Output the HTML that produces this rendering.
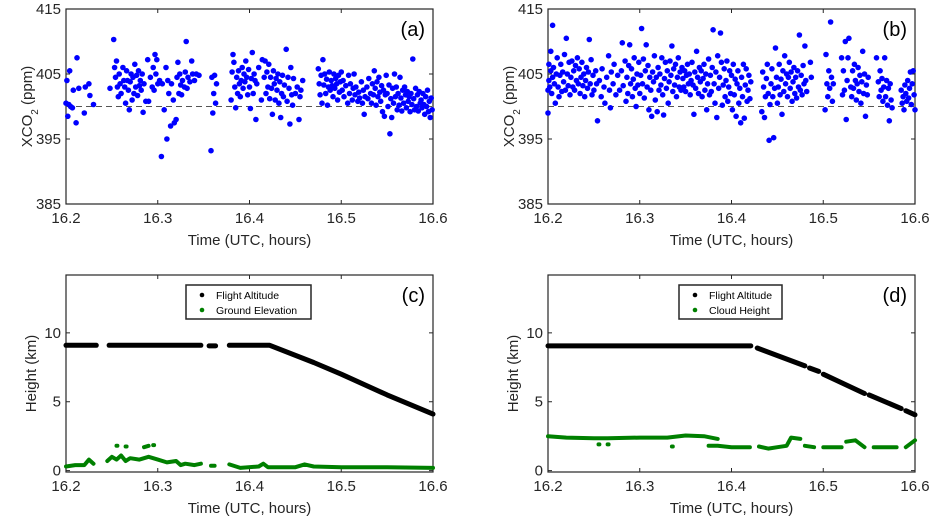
<!DOCTYPE html>
<html><head><meta charset="utf-8"><style>
body{margin:0;background:#fff;}
svg{display:block;font-family:"Liberation Sans",Arial,sans-serif;}
</style></head><body>
<svg id="fig" width="938" height="524" viewBox="0 0 938 524"></svg>
<script>
// ---- Data ----
const xTicks = [16.2, 16.3, 16.4, 16.5, 16.6];
const xTickLabels = ["16.2", "16.3", "16.4", "16.5", "16.6"];
const co2Ticks = [385, 395, 405, 415];
const heightTicks = [0, 5, 10];
const co2Ref = 400;
const xco2A = [[16.200,400.5],[16.201,404],[16.202,398.5],[16.203,400.3],[16.204,405.5],[16.205,400],[16.207,399.8],[16.208,402.5],[16.211,397.5],[16.212,407.5],[16.214,402.8],[16.220,399],[16.221,403],[16.225,403.5],[16.226,401.7],[16.230,400.3],
[16.248,402.8],[16.252,410.3],[16.253,406],[16.254,404.5],[16.255,407],[16.256,403],[16.257,401.5],[16.258,405],[16.259,403.5],[16.260,402],[16.262,406],[16.263,404],[16.264,403],[16.265,400.5],[16.266,405.5],[16.267,404],[16.268,402.5],[16.269,399.5],[16.270,403.8],[16.271,405],[16.272,401],[16.273,404.5],[16.274,402],[16.275,406.5],[16.276,403],[16.277,404.8],[16.278,401.7],[16.279,405.5],[16.280,403.2],[16.281,404],[16.282,402.5],[16.283,405],[16.284,399.1],[16.285,403.5],[16.287,400.8],[16.289,407.2],[16.290,400.8],[16.292,404.5],[16.294,403],[16.295,406],[16.296,402.5],[16.297,408],[16.298,405],[16.299,407.2],[16.300,403.5],[16.302,404],[16.304,392.3],[16.305,403.5],[16.307,399.5],[16.309,406],[16.310,395],[16.311,404],[16.312,402],[16.314,397],[16.315,403.5],[16.317,401],[16.318,397.5],[16.320,398],[16.321,404.5],[16.322,406.8],[16.323,402],[16.324,405],[16.325,403.3],[16.326,401.8],[16.327,404],[16.329,403],[16.330,405.3],[16.331,410],[16.332,402.8],[16.333,404.5],[16.335,403.8],[16.337,407],[16.338,405],[16.340,404],[16.342,405],[16.345,404.8],
[16.358,393.2],[16.359,404.5],[16.360,399],[16.361,402],[16.362,404.8],[16.363,400.5],[16.364,403.5],
[16.380,401],[16.381,405.3],[16.382,408],[16.383,406.8],[16.384,403],[16.385,399.8],[16.386,404.5],[16.387,402],[16.388,405.5],[16.389,403.5],[16.390,401.5],[16.391,404],[16.392,406],[16.393,402.8],[16.394,405],[16.395,403.8],[16.396,407],[16.397,404.5],[16.398,401.8],[16.399,405.7],[16.400,403],[16.401,399.7],[16.402,404.3],[16.403,408.3],[16.404,402],[16.405,405],[16.406,404],[16.407,398],[16.408,403.5],[16.410,406],
[16.413,401],[16.414,407.2],[16.416,404.5],[16.417,407],[16.418,402],[16.419,405.3],[16.420,403],[16.421,406.5],[16.422,401.2],[16.423,404.5],[16.424,402.8],[16.425,398.8],[16.426,405.5],[16.427,403.5],[16.428,401],[16.429,404.3],[16.430,402.5],[16.431,405],[16.432,400.5],[16.433,403.8],[16.434,398.3],[16.435,402],[16.436,404.8],[16.437,401.5],[16.438,403.3],[16.440,408.8],[16.441,400.8],[16.442,404.5],[16.443,402.8],[16.444,397.3],[16.445,406],[16.446,401.8],[16.447,400.2],[16.448,404.3],[16.450,402],[16.452,403],[16.454,398],[16.455,401.5],[16.456,402.5],[16.458,404],
[16.475,405.8],[16.476,403.5],[16.477,401.8],[16.478,404.8],[16.479,400.5],[16.480,407.2],[16.481,403.3],[16.482,405],[16.483,402],[16.484,404.2],[16.485,400.2],[16.486,403],[16.487,405.3],[16.488,402.5],[16.489,404],[16.490,403.2],[16.491,401.5],[16.492,405],[16.493,402.8],[16.494,404.3],[16.495,403.5],[16.496,401],[16.497,404.8],[16.498,402.2],[16.499,403.8],[16.500,405.3],[16.501,402.5],[16.502,404],[16.503,401.5],[16.505,403.2],[16.507,400.5],[16.508,404.8],[16.509,402],[16.510,403.5],[16.512,401],[16.513,402.8],[16.514,405],[16.515,401.8],[16.516,403],[16.518,400.8],[16.519,402.2],[16.520,401.3],[16.522,403.8],[16.523,400.5],[16.524,402.5],[16.525,398.8],[16.526,401.5],[16.528,403],[16.529,401.2],[16.530,404.3],[16.532,402],[16.533,400.5],[16.534,403.5],[16.535,401.8],[16.536,405.5],[16.537,402.8],[16.538,400.2],[16.539,403.8],[16.540,401.5],[16.541,404.5],[16.542,402.2],[16.543,400.8],[16.544,403.2],[16.545,399.2],[16.546,402.5],[16.547,398.5],[16.548,401.8],[16.549,404.8],[16.550,402],[16.551,400],[16.552,403.3],[16.553,395.8],[16.554,401.2],[16.555,398.3],[16.556,402.8],[16.557,400.5],[16.558,405],[16.559,401.5],[16.560,403],[16.561,399.5],[16.562,402],[16.563,400.2],[16.564,404.5],[16.565,401.3],[16.566,399.3],[16.567,402.5],[16.568,400.5],[16.569,403],[16.570,401.8],[16.571,399.8],[16.572,402.3],[16.573,400.8],[16.574,401.5],[16.575,399.2],[16.576,402],[16.577,400.3],[16.578,407.3],[16.579,401.2],[16.580,399.5],[16.581,402.8],[16.582,400],[16.583,401.8],[16.584,399.3],[16.585,402.3],[16.586,400.5],[16.587,401],[16.588,399.8],[16.589,402],[16.590,400.3],[16.591,398.8],[16.592,401.5],[16.593,400],[16.594,402.5],[16.595,399.2],[16.596,400.8],[16.597,398.3],[16.598,401.3],[16.599,399.5]];
const xco2B = [[16.200,402.5],[16.200,399],[16.201,404],[16.201,406.5],[16.202,403],[16.203,405.5],[16.203,408.5],[16.204,402],[16.205,412.5],[16.205,404.5],[16.206,406],[16.207,403.5],[16.208,400.5],[16.209,405],[16.210,407.5],[16.211,403],[16.212,401.5],[16.213,404.8],[16.214,406.5],[16.215,402.3],[16.216,405.3],[16.217,403.8],[16.218,408],[16.219,402.5],[16.220,410.5],[16.221,405],[16.222,403.2],[16.223,406.8],[16.224,401.8],[16.225,404.5],[16.226,407],[16.227,403],[16.228,405.5],[16.229,402.5],[16.230,406.3],[16.231,404],[16.232,407.5],[16.233,403.5],[16.234,405.8],[16.235,402],[16.236,404.5],[16.237,406.8],[16.238,403.2],[16.239,405],[16.240,401.5],[16.241,404],[16.242,406],[16.243,402.8],[16.244,405.3],[16.245,410.3],[16.246,403.5],[16.247,407.2],[16.248,401.8],[16.249,404.8],[16.250,402.5],[16.252,405.5],[16.253,403.5],[16.254,397.8],[16.256,404],[16.258,401.5],[16.259,405.8],[16.261,403],[16.262,400.5],[16.264,404.5],[16.266,407.8],[16.267,402.5],[16.268,399.8],[16.269,405.3],[16.271,403.5],[16.272,406.5],[16.274,401.8],[16.276,404.8],[16.278,402.5],[16.280,405.5],[16.281,409.8],[16.282,403.2],[16.284,407],[16.285,400.8],[16.286,404.5],[16.287,402],[16.288,406.3],[16.289,409.5],[16.290,403.5],[16.291,405.8],[16.292,401.5],[16.293,404.2],[16.294,407.5],[16.295,402.8],[16.296,400],[16.297,405],[16.298,403.3],[16.299,406.8],[16.300,402],[16.301,404.8],[16.302,412],[16.303,403.5],[16.304,407.3],[16.305,401.3],[16.306,405.5],[16.307,409.5],[16.308,403],[16.309,406.3],[16.310,399.5],[16.311,404.5],[16.312,402.5],[16.313,398.5],[16.314,405.3],[16.315,403.8],[16.316,407.8],[16.317,401],[16.318,404.5],[16.319,399.2],[16.320,406],[16.321,402.5],[16.322,405],[16.323,403.3],[16.324,407.5],[16.325,401.8],[16.326,398.7],[16.327,404.3],[16.328,406.8],[16.329,402.8],[16.330,405.5],[16.331,400.5],[16.332,403.8],[16.333,407],[16.334,404.8],[16.335,409.3],[16.336,402.3],[16.337,405.8],[16.338,403.3],[16.339,406.5],[16.340,401.5],[16.341,404.5],[16.342,407.5],[16.343,403],[16.344,405.3],[16.345,402.5],[16.346,406],[16.347,404.3],[16.348,403],[16.349,405.5],[16.350,402.3],[16.351,404.8],[16.352,406.5],[16.353,403.5],[16.354,405],[16.355,401.8],[16.356,404],[16.357,406.8],[16.358,403.3],[16.359,398.8],[16.360,405.3],[16.361,402.8],[16.362,408.5],[16.363,404.5],[16.364,402],[16.365,406],[16.366,403.8],[16.367,405.5],[16.368,401.5],[16.369,404.3],[16.370,406.5],[16.371,402.5],[16.372,405],[16.373,399.5],[16.374,403.5],[16.375,407.3],[16.376,401.8],[16.377,404.8],[16.378,402.3],[16.379,406],[16.380,411.8],[16.381,403.5],[16.382,400.5],[16.383,405.3],[16.384,398.3],[16.385,407.8],[16.386,402.8],[16.387,404.5],[16.388,411.3],[16.389,406.8],[16.390,400.2],[16.391,403.3],[16.392,405.8],[16.393,401.5],[16.394,404],[16.395,407],[16.396,400.8],[16.397,403],[16.398,405.5],[16.399,402],[16.400,404.8],[16.401,399.5],[16.402,406.5],[16.403,401.8],[16.404,404.2],[16.405,398.5],[16.406,403.5],[16.407,405.5],[16.408,400.5],[16.409,402.8],[16.410,397.5],[16.411,404.5],[16.412,401.5],[16.413,406.5],[16.414,398.2],[16.415,403.3],[16.416,405.8],[16.417,400.8],[16.418,402.5],[16.419,404.8],[16.420,401.2],[16.421,403.8],
[16.433,399.2],[16.434,405.3],[16.435,403],[16.436,398.3],[16.437,401.5],[16.438,404.3],[16.439,406.5],[16.440,402],[16.441,394.8],[16.442,400.3],[16.443,403.5],[16.444,405.8],[16.445,401.5],[16.446,395.2],[16.447,402.8],[16.448,409],[16.449,404.5],[16.450,400.5],[16.451,403],[16.452,406.5],[16.453,401.8],[16.454,404.2],[16.455,398.8],[16.456,405.5],[16.457,402.3],[16.458,407.8],[16.459,403.5],[16.460,405],[16.461,401.5],[16.462,404.5],[16.463,406.8],[16.464,402.8],[16.465,405.3],[16.466,400.8],[16.467,403.8],[16.468,406],[16.469,402],[16.470,404.5],[16.471,401.3],[16.472,405.5],[16.473,403],[16.474,411],[16.475,402.5],[16.476,404.8],[16.477,401.8],[16.478,406.3],[16.479,403.5],[16.480,409.3],[16.481,404],[16.482,402.3],[16.486,406.8],[16.487,404.5],
[16.502,399.5],[16.503,408],[16.504,403.5],[16.505,401.5],[16.506,405.5],[16.507,402.8],[16.508,413],[16.509,404.5],[16.510,400.8],[16.511,403.5],[16.520,407.5],[16.521,401.8],[16.522,405.5],[16.523,402.5],[16.524,410],[16.525,398],[16.526,404],[16.527,407.5],[16.528,410.5],[16.530,403],[16.531,401.5],[16.532,405.5],[16.533,402.8],[16.534,406.5],[16.535,404],[16.536,401],[16.537,403.5],[16.538,406],[16.539,402.3],[16.540,404.8],[16.541,400.5],[16.542,403.8],[16.543,408.5],[16.544,402],[16.545,405],[16.546,398.5],[16.547,403.3],[16.548,401.8],[16.549,404.5],
[16.558,407.5],[16.560,403.8],[16.561,401.5],[16.562,405.5],[16.563,402.5],[16.564,404.3],[16.565,400.8],[16.566,403],[16.567,407.5],[16.568,401.5],[16.569,404],[16.570,400.2],[16.571,402.8],[16.572,397.8],[16.573,403.5],[16.574,401],[16.575,399.8],[16.585,402.5],[16.586,400.5],[16.587,401.5],[16.588,399.5],[16.589,403.3],[16.590,402],[16.591,400.8],[16.592,404],[16.593,401.3],[16.594,402.8],[16.595,405.3],[16.596,400.3],[16.597,403.5],[16.598,405.5],[16.599,401.8],[16.600,399.5]];
const flightC = [[[16.200,9.1],[16.233,9.1]],[[16.247,9.1],[16.347,9.1]],[[16.356,9.05],[16.363,9.05]],[[16.378,9.1],[16.422,9.1],[16.470,7.85],[16.500,7.0],[16.550,5.5],[16.600,4.1]]];
const groundC = [[[16.200,0.3],[16.210,0.4],[16.220,0.4],[16.225,0.8],[16.230,0.5]],[[16.245,0.7],[16.250,1.0],[16.255,0.8],[16.260,1.1],[16.265,0.7],[16.270,0.9],[16.280,0.8],[16.290,1.0],[16.300,0.8],[16.310,0.6],[16.320,0.7],[16.325,0.4],[16.330,0.5],[16.340,0.4],[16.347,0.5]],[[16.358,0.35],[16.362,0.35]],[[16.378,0.45],[16.390,0.2],[16.410,0.3],[16.415,0.5],[16.420,0.25],[16.450,0.25],[16.460,0.45],[16.470,0.3],[16.500,0.25],[16.550,0.25],[16.600,0.2]],[[16.255,1.8],[16.256,1.8]],[[16.265,1.75],[16.266,1.75]],[[16.285,1.7],[16.290,1.8]],[[16.295,1.85],[16.296,1.85]]];
const flightD = [[[16.200,9.05],[16.421,9.05]],[[16.428,8.9],[16.480,7.6]],[[16.485,7.45],[16.495,7.2]],[[16.500,7.0],[16.545,5.6]],[[16.550,5.5],[16.585,4.5]],[[16.590,4.35],[16.600,4.05]]];
const cloudD = [[[16.200,2.5],[16.220,2.4],[16.250,2.35],[16.265,2.35],[16.300,2.4],[16.330,2.4],[16.350,2.55],[16.370,2.5],[16.385,2.3]],[[16.375,1.8],[16.385,1.8],[16.400,1.7],[16.420,1.7]],[[16.430,1.75],[16.440,1.6],[16.450,1.7],[16.460,1.8],[16.465,2.4],[16.475,2.3]],[[16.480,1.8],[16.490,1.7]],[[16.500,1.7],[16.520,1.7]],[[16.525,2.1],[16.535,2.2],[16.545,1.7]],[[16.555,1.7],[16.580,1.7]],[[16.590,1.7],[16.600,2.2]],[[16.255,1.9],[16.256,1.9]],[[16.265,1.9],[16.266,1.9]],[[16.335,1.75],[16.336,1.75]]];

// ---- Drawing ----
const NS = "http://www.w3.org/2000/svg";
const fig = document.getElementById('fig');
function mk(tag, attrs, parent, text) {
  const e = document.createElementNS(NS, tag);
  for (const k in attrs) e.setAttribute(k, attrs[k]);
  if (text !== undefined) e.textContent = text;
  (parent || fig).appendChild(e);
  return e;
}
function panel(id, x0, x1, y0, y1, ymin, ymax) {
  const g = mk('g', {});
  
  
  const sx = t => x0 + (t - 16.2) / 0.4 * (x1 - x0);
  const sy = v => y1 - (v - ymin) / (ymax - ymin) * (y1 - y0);
  return {g, sx, sy, x0, x1, y0, y1};
}
function axes(p, yTicks, ylabelHtml, letter, yTitleX) {
  const {g, sx, sy, x0, x1, y0, y1} = p;
  const frame = mk('rect', {x: x0, y: y0, width: x1 - x0, height: y1 - y0, fill: 'none', stroke: '#262626', 'stroke-width': 1.2}, g);
  
  
  xTicks.forEach((t, i) => {
    const x = sx(t);
    mk('line', {x1: x, x2: x, y1: y1, y2: y1 - 4, stroke: '#262626'}, g);
    mk('line', {x1: x, x2: x, y1: y0, y2: y0 + 4, stroke: '#262626'}, g);
    const tl = mk('text', {x: x, y: y1 + 19, 'text-anchor': 'middle', 'font-size': 15, fill: '#262626'}, g, xTickLabels[i]);
    
    
  });
  yTicks.forEach(v => {
    const y = sy(v);
    mk('line', {x1: x0, x2: x0 + 4, y1: y, y2: y, stroke: '#262626'}, g);
    mk('line', {x1: x1, x2: x1 - 4, y1: y, y2: y, stroke: '#262626'}, g);
    const tl = mk('text', {x: x0 - 5, y: y + 5, 'text-anchor': 'end', 'font-size': 15, fill: '#262626'}, g, String(v));
    
    
  });
  const xt = mk('text', {x: (x0 + x1) / 2, y: y1 + 41, 'text-anchor': 'middle', 'font-size': 15, fill: '#262626'}, g, 'Time (UTC, hours)');
  
  
  const cy = (y0 + y1) / 2;
  const yt = mk('text', {x: yTitleX, y: cy, 'text-anchor': 'middle', 'font-size': 15, fill: '#262626', transform: `rotate(-90 ${yTitleX} ${cy})`}, g);
  yt.innerHTML = ylabelHtml;
  
  
  const pl = mk('text', {x: x1 - 8, y: y0 + 27, 'text-anchor': 'end', 'font-size': 20, fill: '#000'}, g, '(' + letter + ')');
  
  
}
function scatter(p, data, name) {
  const s = mk('g', {fill: '#0000ff'}, p.g);
  
  
  data.forEach(d => {
    const c = mk('circle', {cx: p.sx(d[0]).toFixed(1), cy: p.sy(d[1]).toFixed(1), r: 2.8}, s);
    
    
  });
}
function refLine(p) {
  const l = mk('line', {x1: p.x0, x2: p.x1, y1: p.sy(co2Ref), y2: p.sy(co2Ref), stroke: '#555', 'stroke-dasharray': '6,4', 'stroke-width': 1}, p.g);
  
  
}
function tracks(p, segs, color, name, w) {
  const s = mk('g', {}, p.g);
  
  
  segs.forEach(seg => {
    const pts = seg.map(d => p.sx(d[0]).toFixed(1) + ',' + p.sy(d[1]).toFixed(1)).join(' ');
    const pl = mk('polyline', {points: pts, fill: 'none', stroke: color, 'stroke-width': w, 'stroke-linecap': 'round', 'stroke-linejoin': 'round'}, s);
    
    
  });
}
function legend(p, x, y, w, label2) {
  const lg = mk('g', {}, p.g);
  
  
  mk('rect', {x: x, y: y, width: w, height: 34, fill: '#fff', stroke: '#262626', 'stroke-width': 1.5}, lg);
  mk('circle', {cx: x + 16, cy: y + 10, r: 2.3, fill: '#000'}, lg);
  const e1 = mk('text', {x: x + 30, y: y + 14, 'font-size': 10.5, fill: '#000'}, lg, 'Flight Altitude');
  
  
  mk('circle', {cx: x + 16, cy: y + 25, r: 2.3, fill: '#008000'}, lg);
  const e2 = mk('text', {x: x + 30, y: y + 29, 'font-size': 10.5, fill: '#000'}, lg, label2);
  
  
}
const co2Label = 'XCO<tspan baseline-shift="sub" font-size="10">2</tspan> (ppm)';
// (a)
const pa = panel('a', 66, 433, 9, 204, 385, 415);
axes(pa, co2Ticks, co2Label, 'a', 32);
refLine(pa); scatter(pa, xco2A, 'xco2-series-a');
// (b)
const pb = panel('b', 548, 915, 9, 204, 385, 415);
axes(pb, co2Ticks, co2Label, 'b', 514);
refLine(pb); scatter(pb, xco2B, 'xco2-series-b');
// (c)
const pc = panel('c', 66, 433, 275, 472, -0.1, 14.2);
axes(pc, heightTicks, 'Height (km)', 'c', 36);
tracks(pc, groundC, '#008000', 'ground-elevation-series', 4);
tracks(pc, flightC, '#000', 'flight-altitude-series', 5);
legend(pc, 186, 285, 125, 'Ground Elevation');
// (d)
const pd = panel('d', 548, 915, 275, 472, -0.1, 14.2);
axes(pd, heightTicks, 'Height (km)', 'd', 518);
tracks(pd, cloudD, '#008000', 'cloud-height-series', 4);
tracks(pd, flightD, '#000', 'flight-altitude-series', 5);
legend(pd, 679, 285, 103, 'Cloud Height');
</script>
</body></html>
